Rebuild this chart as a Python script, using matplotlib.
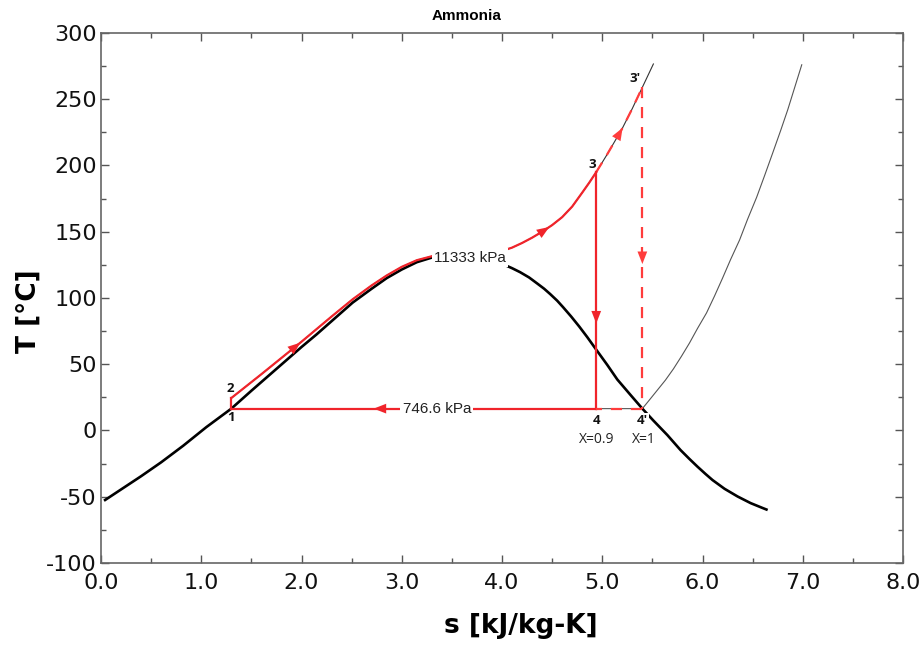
import numpy as np
import matplotlib
matplotlib.use("Agg")
import matplotlib.pyplot as plt

# Saturation dome of ammonia (liquid side, critical point, vapour side)
sat_s = [0.03, 0.20, 0.40, 0.60, 0.82, 1.05, 1.30, 1.50, 1.75, 2.00, 2.15, 2.30, 2.51,
         2.70, 2.85, 3.00, 3.15, 3.30, 3.45, 3.60, 3.80, 3.92, 4.01, 4.10, 4.18,
         4.27, 4.35, 4.42, 4.48, 4.55, 4.61, 4.69, 4.77, 4.85, 4.94, 5.05, 5.15,
         5.28, 5.40, 5.51, 5.65, 5.78, 5.87, 5.95, 6.03, 6.10, 6.22, 6.35, 6.48,
         6.60, 6.65]
sat_T = [-53.0, -44.5, -34.5, -24.0, -11.5, 2.5, 16.5, 30.0, 46.5, 63.0, 72.5, 82.5, 96.5,
         107.0, 115.0, 121.5, 127.0, 130.5, 132.0, 132.3, 130.8, 128.3, 125.5, 122.5, 119.5,
         115.5, 111.0, 107.0, 103.0, 98.0, 93.0, 86.0, 78.5, 70.5, 61.0, 49.5, 38.5,
         27.0, 16.5, 7.5, -3.5, -14.7, -21.5, -27.3, -32.8, -37.4, -44.0, -49.8, -54.8,
         -58.5, -60.0]

# Critical isobar, 11333 kPa
hp_s = [1.30, 1.60, 2.00, 2.30, 2.51, 2.70, 2.85, 3.00, 3.15, 3.30, 3.45, 3.60,
        3.80, 4.00, 4.10, 4.20, 4.30, 4.40, 4.50, 4.60, 4.70, 4.80, 4.87, 4.94, 5.05,
        5.20, 5.30, 5.40, 5.51]
hp_T = [24.5, 42.5, 67.0, 86.0, 99.0, 109.5, 117.0, 123.5, 128.5, 131.5, 132.2, 132.3,
        132.8, 135.5, 138.0, 141.5, 145.5, 150.0, 155.0, 161.0, 169.0, 179.5, 187.0, 195.0,
        208.5, 228.0, 243.0, 259.0, 276.6]

# Evaporator / condenser isobar, 746.6 kPa
lp_s = [1.30, 4.94, 5.40, 5.47, 5.55, 5.63, 5.71, 5.79, 5.87, 5.95, 6.04, 6.12,
        6.20, 6.28, 6.37, 6.45, 6.54, 6.62, 6.70, 6.78, 6.85, 6.92, 6.99]
lp_T = [16.5, 16.5, 16.5, 23.0, 30.5, 38.0, 46.5, 56.0, 66.0, 77.0, 88.7, 101.5,
        115.0, 129.0, 143.8, 159.5, 176.0, 192.5, 209.4, 226.5, 242.0, 259.0, 276.0]

# Cycle states: (label, s, T)
state_1 = ("1", 1.30, 16.5)
state_2 = ("2", 1.30, 24.5)
state_3 = ("3", 4.94, 195.0)
state_3p = ("3'", 5.40, 259.0)
state_4 = ("4", 4.94, 16.5)
state_4p = ("4'", 5.40, 16.5)

quality_4 = "X=0.9"
quality_4p = "X=1"
p_high_label = "11333 kPa"
p_low_label = "746.6 kPa"

x_ticks = [0.0, 1.0, 2.0, 3.0, 4.0, 5.0, 6.0, 7.0, 8.0]
y_ticks = [-100, -50, 0, 50, 100, 150, 200, 250, 300]

RED = "#f0242b"
DASH_RED = "#ff3c3c"
label_font = "Open Sans"

fig = plt.figure(figsize=(9.19, 6.49), dpi=100)
ax = fig.add_axes([0.1099, 0.1325, 0.8727, 0.8167])

ax.set_xlim(0, 8)
ax.set_ylim(-100, 300)

# dome and isobars
ax.plot(sat_s, sat_T, color="black", lw=1.9, zorder=3, solid_capstyle="butt",
        solid_joinstyle="round")
ax.plot(hp_s, hp_T, color="#333333", lw=0.8, zorder=2)
ax.plot(lp_s, lp_T, color="#555555", lw=0.8, zorder=2)

hs = np.array(hp_s)
ht = np.array(hp_T)
_, s1, T1 = state_1
_, s2, T2 = state_2
_, s3, T3 = state_3
_, s3p, T3p = state_3p
_, s4, T4 = state_4
_, s4p, T4p = state_4p

# pump 1-2
ax.plot([s1, s2], [T1, T2], color=RED, lw=1.6, zorder=4)
# heating 2-3 along the critical isobar
m = (hs >= s2) & (hs <= s3)
ax.plot(hs[m], ht[m], color=RED, lw=1.6, zorder=4, solid_joinstyle="round")
# extended heating 3-3'
m2 = (hs >= s3) & (hs <= s3p)
ax.plot(hs[m2], ht[m2], color=DASH_RED, lw=1.6, ls=(0, (5, 4)), zorder=4)
# expansion 3-4 and 3'-4'
ax.plot([s3, s4], [T3, T4], color=RED, lw=1.6, zorder=4)
ax.plot([s3p, s4p], [T3p, T4p], color=DASH_RED, lw=1.6, ls=(0, (5, 4)), zorder=4)
# condensation 4-1 and 4'-4
ax.plot([s4, s1], [T4, T1], color=RED, lw=1.6, zorder=4)
ax.plot([s4p, s4], [T4p, T4], color=DASH_RED, lw=1.6, ls=(0, (5, 4)), zorder=4)


def arrow_at(sa, ta, sb, tb, frac, color=RED):
    xa = sa + frac * (sb - sa)
    ya = ta + frac * (tb - ta)
    dx = (sb - sa) * 0.02
    dy = (tb - ta) * 0.02
    ax.annotate("", xy=(xa + dx, ya + dy), xytext=(xa - dx, ya - dy),
                arrowprops=dict(arrowstyle="-|>,head_length=0.9,head_width=0.35",
                                color=color, lw=0.01, shrinkA=0, shrinkB=0),
                zorder=6)


def arrow_on_curve(xs, ys, x0, color=RED):
    i = int(np.searchsorted(xs, x0))
    i = max(1, min(i, len(xs) - 1))
    xa, xb = xs[i - 1], xs[i]
    ya, yb = ys[i - 1], ys[i]
    f = (x0 - xa) / (xb - xa)
    arrow_at(xa, ya, xb, yb, f, color)


arrow_on_curve(hs, ht, 1.98)
arrow_on_curve(hs, ht, 4.47)
arrow_on_curve(hs, ht, 5.20, DASH_RED)
arrow_at(s3, T3, s4, T4, 0.62)
arrow_at(s3p, T3p, s4p, T4p, 0.53, DASH_RED)
arrow_at(s4, T4, s1, T1, 0.59)

# isobar labels
white = dict(facecolor="white", edgecolor="none", pad=1.5)
ax.text(3.68, 130.5, p_high_label, ha="center", va="center", fontsize=11,
        family="Liberation Sans", color="#222222", bbox=white, zorder=7)
ax.text(3.35, 16.5, p_low_label, ha="center", va="center", fontsize=11,
        family="Liberation Sans", color="#222222", bbox=white, zorder=7)

# state labels
pt = dict(fontsize=9.5, fontweight="bold", family=label_font, color="#111111", zorder=7)
ax.annotate(state_1[0], (s1, T1), xytext=(0, -2), textcoords="offset points",
            ha="center", va="top", **pt)
ax.annotate(state_2[0], (s2, T2), xytext=(-1, 2), textcoords="offset points",
            ha="center", va="bottom", **pt)
ax.annotate(state_3[0], (s3, T3), xytext=(-3, 1), textcoords="offset points",
            ha="center", va="bottom", **pt)
ax.annotate(state_3p[0], (s3p, T3p), xytext=(-5, 2), textcoords="offset points",
            ha="center", va="bottom", **pt)
ax.annotate(state_4[0], (s4, T4), xytext=(0, -4), textcoords="offset points",
            ha="center", va="top", **pt)
ax.annotate(state_4p[0], (s4p, T4p), xytext=(0, -4), textcoords="offset points",
            ha="center", va="top", bbox=dict(facecolor="white", edgecolor="none", pad=1.0), **pt)
qt = dict(fontsize=10, family=label_font, color="#222222", zorder=7)
ax.annotate(quality_4, (s4, T4), xytext=(0, -17), textcoords="offset points",
            ha="center", va="top", **qt)
ax.annotate(quality_4p, (s4p, T4p), xytext=(1, -17), textcoords="offset points",
            ha="center", va="top", **qt)

# axes styling
ax.set_xticks(x_ticks)
ax.set_xticklabels([f"{v:.1f}" for v in x_ticks])
ax.set_yticks(y_ticks)
ax.set_yticklabels([f"{v:d}" for v in y_ticks])
ax.set_xticks(np.arange(0.5, 8, 1.0), minor=True)
ax.set_yticks(np.arange(-75, 300, 50), minor=True)
ax.tick_params(which="both", direction="in", top=True, right=True, color="#555555")
ax.tick_params(which="major", length=6, width=1.0, labelsize=16)
ax.tick_params(axis="y", which="major", pad=3)
ax.tick_params(axis="x", which="major", pad=7)
ax.tick_params(which="minor", length=3.5, width=1.0)
for lab in ax.get_xticklabels() + ax.get_yticklabels():
    lab.set_family("DejaVu Sans")
    lab.set_color("#111111")
for sp in ax.spines.values():
    sp.set_color("#666666")
    sp.set_linewidth(1.2)

ax.set_xlabel("s [kJ/kg-K]", fontsize=19, fontweight="bold", family="DejaVu Sans")
ax.xaxis.set_label_coords(0.523, -0.095)
ax.set_ylabel("T [°C]", fontsize=19, fontweight="bold", family="DejaVu Sans")
ax.yaxis.set_label_coords(-0.074, 0.475)
fig.text(0.508, 0.975, "Ammonia", ha="center", va="center", fontsize=11,
         fontweight="bold", family="Liberation Sans")

fig.savefig("out.png", dpi=100)
